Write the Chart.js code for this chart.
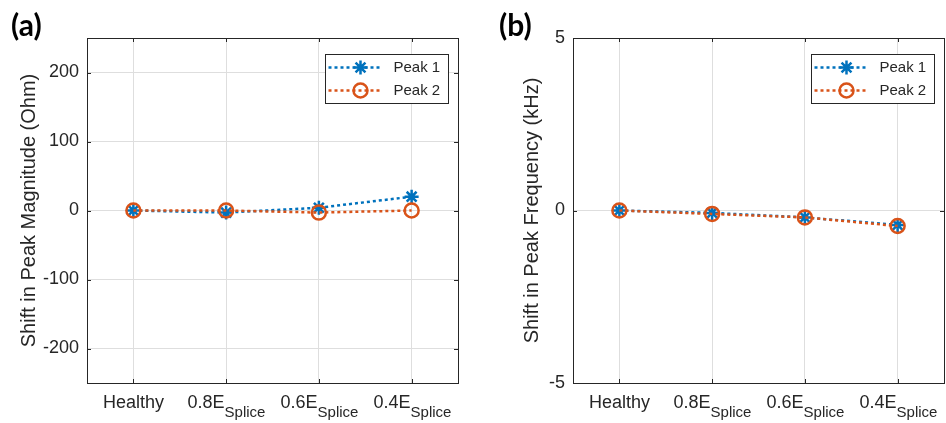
<!DOCTYPE html>
<html>
<head>
<meta charset="utf-8">
<script src="https://cdn.jsdelivr.net/npm/chart.js@4/dist/chart.umd.min.js"></script>
<style>
  html, body { margin: 0; padding: 0; background: #fff; }
  body { width: 946px; height: 423px; position: relative; overflow: hidden; }
  canvas { position: absolute; top: 0; }
  #chartA { left: 0; }
  #chartB { left: 473px; }
  .panel-tag { position: absolute; font: bold 30px Lato, "Open Sans", sans-serif; color: #000; line-height: 1; }
</style>
</head>
<body>
<canvas id="chartA" width="473" height="423"></canvas>
<canvas id="chartB" width="473" height="423"></canvas>
<div class="panel-tag" style="left:11px; top:9px">(a)</div>
<div class="panel-tag" style="left:499px; top:9px">(b)</div>
<script>
// values
const categories = ["Healthy", "0.8E_Splice", "0.6E_Splice", "0.4E_Splice"];
const magnitudePeak1 = [0, -3, 4, 20];
const magnitudePeak2 = [0, 0, -3, 0];
const frequencyPeak1 = [0, -0.07, -0.2, -0.42];
const frequencyPeak2 = [0, -0.1, -0.2, -0.45];
const magnitudeTicks = [-200, -100, 0, 100, 200];
const frequencyTicks = [-5, 0, 5];

const BLUE = "#0072BD";
const ORANGE = "#D95319";
const INK = "#262626";
const GRID = "#dedede";
const FONT = '"Liberation Sans", Arial, sans-serif';

const lineSet = (label, data, color, style, order) => ({
  label,
  data,
  order,
  borderColor: color,
  borderWidth: 2.5,
  borderDash: [3, 3],
  pointStyle: style,
  pointRadius: 7,
  pointBorderColor: color,
  pointBackgroundColor: "rgba(0,0,0,0)",
  pointBorderWidth: 2.5,
  fill: false,
  tension: 0,
});

// x labels with a subscript part after "_"
const drawSplitLabel = (ctx, text, x, y) => {
  const [main, sub] = text.split("_");
  ctx.font = `18px ${FONT}`;
  const wMain = ctx.measureText(main).width;
  let wSub = 0;
  if (sub) {
    ctx.font = `15px ${FONT}`;
    wSub = ctx.measureText(sub).width;
  }
  const left = x - (wMain + wSub) / 2;
  ctx.textAlign = "left";
  ctx.textBaseline = "alphabetic";
  ctx.fillStyle = INK;
  ctx.font = `18px ${FONT}`;
  ctx.fillText(main, left, y);
  if (sub) {
    ctx.font = `15px ${FONT}`;
    ctx.fillText(sub, left + wMain, y + 9);
  }
};

const drawLegend = (chart) => {
  const { ctx, chartArea } = chart;
  const w = 123, h = 49;
  const left = Math.round(chartArea.right - 10 - w) + 0.5;
  const top = Math.round(chartArea.top + 16) + 0.5;
  ctx.fillStyle = "#fff";
  ctx.fillRect(left, top, w, h);
  ctx.strokeStyle = INK;
  ctx.lineWidth = 1;
  ctx.strokeRect(left, top, w, h);

  chart.data.datasets.forEach((ds, i) => {
    const y = top + 13 + i * 23;
    ctx.save();
    ctx.strokeStyle = ds.borderColor;
    ctx.lineWidth = ds.borderWidth;
    ctx.setLineDash(ds.borderDash);
    ctx.beginPath();
    ctx.moveTo(left + 3, y);
    ctx.lineTo(left + 55, y);
    ctx.stroke();
    ctx.setLineDash([]);
    ctx.strokeStyle = ds.pointBorderColor;
    ctx.fillStyle = ds.pointBackgroundColor;
    ctx.lineWidth = ds.pointBorderWidth;
    Chart.helpers.drawPoint(ctx, {
      pointStyle: ds.pointStyle,
      radius: ds.pointRadius,
      borderWidth: ds.pointBorderWidth,
      rotation: 0,
    }, left + 35, y);
    ctx.restore();

    ctx.fillStyle = INK;
    ctx.font = `15px ${FONT}`;
    ctx.textBaseline = "middle";
    ctx.textAlign = "left";
    ctx.fillText(ds.label, left + 68, y);
  });
};

// box, inward ticks, x labels and legend, matlab style
const matlabFrame = {
  id: "matlabFrame",
  afterDraw(chart) {
    const { ctx, chartArea, scales } = chart;
    const { left, right, top, bottom } = chartArea;
    ctx.save();
    ctx.strokeStyle = INK;
    ctx.lineWidth = 1;
    ctx.strokeRect(Math.round(left) + 0.5, Math.round(top) + 0.5, Math.round(right - left), Math.round(bottom - top));

    ctx.beginPath();
    scales.y.ticks.forEach(({ value }) => {
      const y = Math.round(scales.y.getPixelForValue(value)) + 0.5;
      ctx.moveTo(left, y); ctx.lineTo(left + 4, y);
      ctx.moveTo(right, y); ctx.lineTo(right - 4, y);
    });
    categories.forEach((label, i) => {
      const x = Math.round(scales.x.getPixelForValue(i)) + 0.5;
      ctx.moveTo(x, bottom); ctx.lineTo(x, bottom - 4);
      ctx.moveTo(x, top); ctx.lineTo(x, top + 4);
      drawSplitLabel(ctx, label, x, bottom + 25);
    });
    ctx.stroke();

    drawLegend(chart);
    ctx.restore();
  },
};

const makePanel = (canvasId, cfg) => new Chart(document.getElementById(canvasId), {
  type: "line",
  data: {
    labels: categories,
    datasets: [
      lineSet("Peak 1", cfg.peak1, BLUE, "star", 1),
      lineSet("Peak 2", cfg.peak2, ORANGE, "circle", 0),
    ],
  },
  options: {
    responsive: false,
    animation: false,
    devicePixelRatio: 1,
    layout: {
      autoPadding: false,
      padding: { top: 38, right: cfg.padRight, left: 0, bottom: 0 },
    },
    plugins: {
      legend: { display: false },
      tooltip: { enabled: false },
    },
    scales: {
      x: {
        type: "category",
        offset: true,
        grid: { offset: false, color: GRID, drawTicks: false },
        border: { display: false },
        ticks: { display: false },
        afterFit: (s) => { s.height = 40; },
      },
      y: {
        min: cfg.min,
        max: cfg.max,
        afterBuildTicks: (s) => { s.ticks = cfg.ticks.map((value) => ({ value })); },
        ticks: { color: INK, font: { family: FONT, size: 18 }, padding: 8 },
        grid: { color: GRID, drawTicks: false },
        border: { display: false },
        title: {
          display: true,
          text: cfg.title,
          color: INK,
          font: { family: FONT, size: 20 },
          padding: { top: cfg.titlePad, bottom: 0 },
        },
        afterFit: (s) => { s.width = cfg.axisWidth; },
      },
    },
  },
  plugins: [matlabFrame],
});

makePanel("chartA", {
  peak1: magnitudePeak1,
  peak2: magnitudePeak2,
  min: -250,
  max: 250,
  ticks: magnitudeTicks,
  title: "Shift in Peak Magnitude (Ohm)",
  axisWidth: 87,
  padRight: 15,
  titlePad: 17,
});

makePanel("chartB", {
  peak1: frequencyPeak1,
  peak2: frequencyPeak2,
  min: -5,
  max: 5,
  ticks: frequencyTicks,
  title: "Shift in Peak Frequency (kHz)",
  axisWidth: 100,
  padRight: 2,
  titlePad: 47,
});
</script>
</body>
</html>
